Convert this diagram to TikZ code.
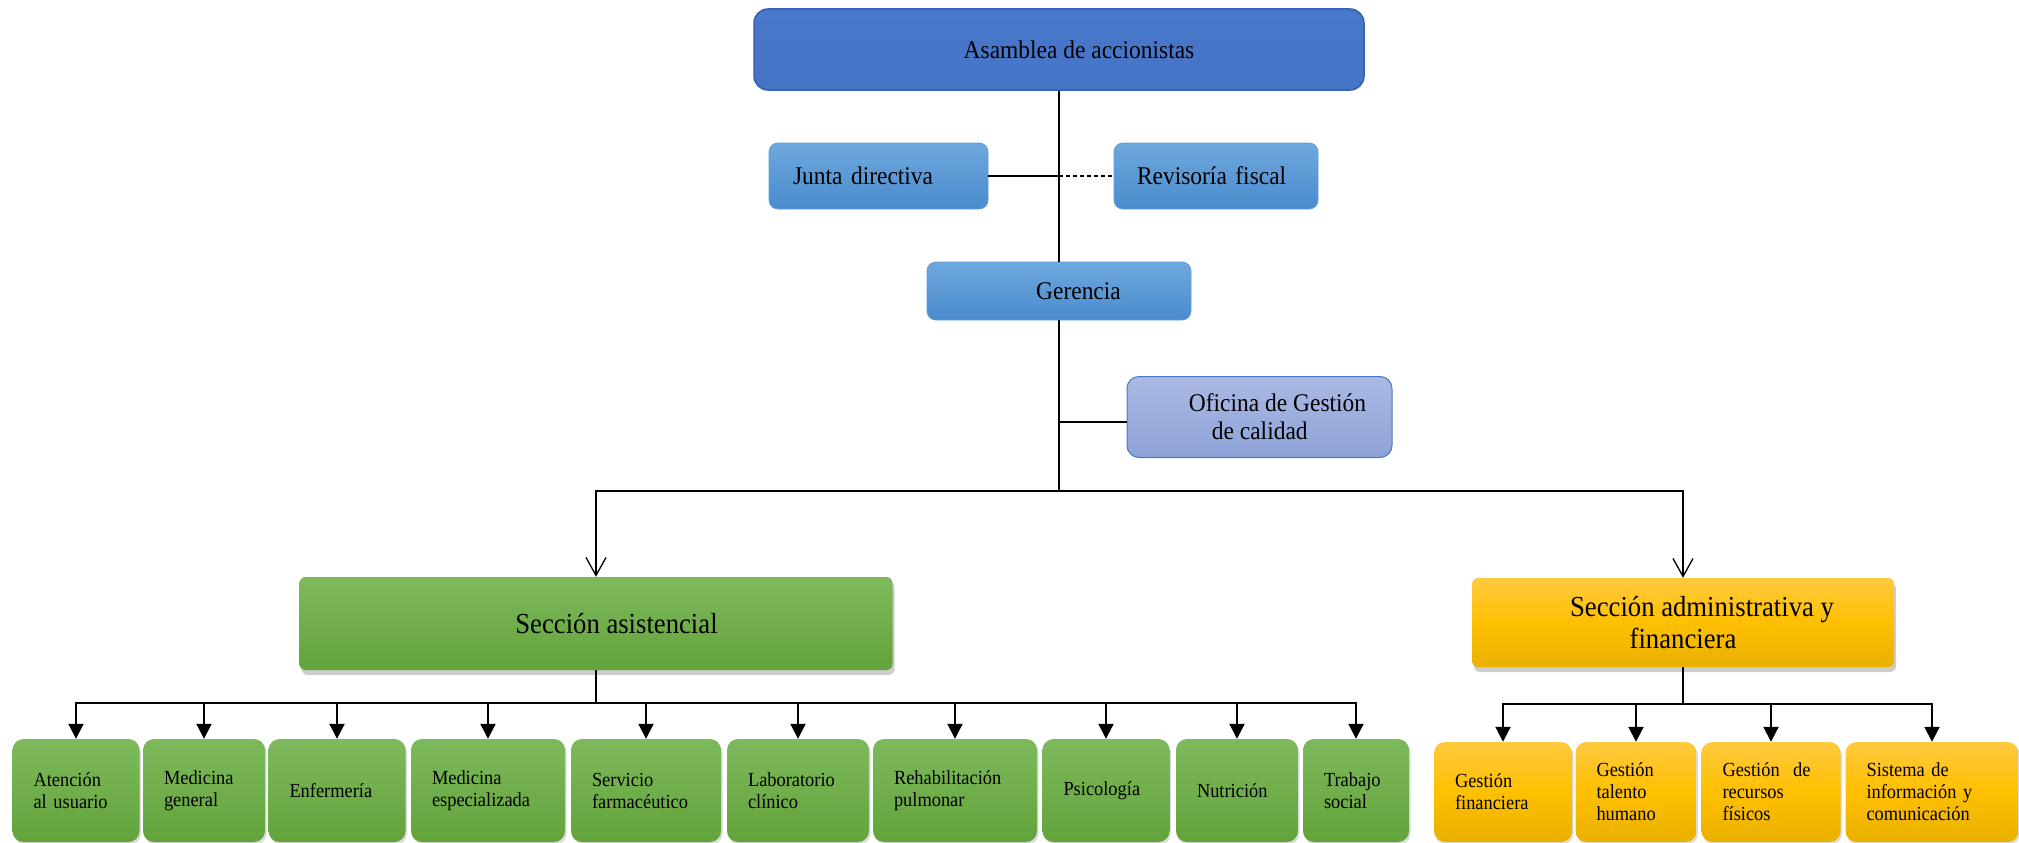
\documentclass[tikz,border=0pt]{standalone}
\usepackage{fontspec}
\setmainfont{Liberation Serif}[FakeStretch=0.92]
\usetikzlibrary{arrows.meta,shadows}
\definecolor{asmfill}{HTML}{4674C6}
\definecolor{asmtop}{HTML}{4878CA}
\definecolor{asmdraw}{HTML}{3560B0}
\definecolor{ltop}{HTML}{6EA8DE}
\definecolor{lbot}{HTML}{4A8BCD}
\definecolor{ldraw}{HTML}{5E9DD8}
\definecolor{otop}{HTML}{ABBAE3}
\definecolor{obot}{HTML}{8DA2D8}
\definecolor{odraw}{HTML}{4A76C8}
\definecolor{gtop}{HTML}{7EBA5D}
\definecolor{gbot}{HTML}{62A33A}
\definecolor{ytop}{HTML}{FFC940}
\definecolor{ymid}{HTML}{FFC000}
\definecolor{ybot}{HTML}{E9B000}
\tikzset{
  box/.style={rectangle, inner sep=0pt, text=black},
  bigfont/.style={font=\fontsize{25.5}{28}\selectfont},
  secfont/.style={font=\fontsize{29}{32}\selectfont},
  smallfont/.style={font=\fontsize{20}{22}\selectfont},
  asmbox/.style={box, bigfont, rounded corners=14pt, top color=asmtop, bottom color=asmfill, draw=asmdraw, line width=1.5pt},
  lightbox/.style={box, bigfont, rounded corners=9pt, top color=ltop, bottom color=lbot, draw=ldraw, line width=0.8pt},
  ofibox/.style={box, bigfont, rounded corners=12pt, top color=otop, bottom color=obot, draw=odraw, line width=1pt},
  sshadow/.style={drop shadow={shadow xshift=2pt, shadow yshift=-5pt, opacity=.28, fill=black!70}},
  tshadow/.style={drop shadow={shadow xshift=1.5pt, shadow yshift=-2.5pt, opacity=.2, fill=black!70}},
  greensec/.style={box, secfont, rounded corners=6pt, top color=gtop, bottom color=gbot, draw=none, sshadow, align=center},
  goldsec/.style={box, secfont, rounded corners=6pt, top color=ytop, bottom color=ybot, middle color=ymid, draw=none, sshadow, align=center},
  gsmall/.style={box, smallfont, rounded corners=11pt, top color=gtop, bottom color=gbot, draw=none, tshadow, align=left, inner xsep=21pt, minimum height=103pt},
  ysmall/.style={box, smallfont, rounded corners=11pt, top color=ytop, bottom color=ybot, middle color=ymid, draw=none, tshadow, align=left, inner xsep=21pt, minimum height=100pt},
  conn/.style={line width=2pt, draw=black},
  openarr/.style={conn, -{Straight Barb[length=18pt,width=20pt,line width=1.3pt]}},
  fillarr/.style={conn, -{Triangle[length=15pt,width=15pt]}}
}
\begin{document}
\begin{tikzpicture}[x=1pt,y=-1pt]
\useasboundingbox (0,0) rectangle (2019,843);
% top level
\node[asmbox, minimum width=610pt, minimum height=81pt] (ase) at (1059,49.5) {\hspace*{40pt}Asamblea de accionistas};
\node[lightbox, minimum height=66pt, inner xsep=24pt, text width=171pt, align=left] (jun) at (878.5,176) {Junta directiva};
\node[lightbox, minimum height=66pt, inner xsep=23pt, text width=158pt, align=left] (rev) at (1216,176) {Revisoría fiscal};
\node[lightbox, minimum width=264pt, minimum height=58pt] (ger) at (1059,291) {\hspace*{39pt}Gerencia};
\node[ofibox, minimum width=265pt, minimum height=81pt, align=left] (ofi) at (1259.5,417) {\hspace*{36pt}Oficina de Gestión\\\hspace*{59pt}de calidad};
% sections
\node[greensec, minimum width=593pt, minimum height=93pt] (sa) at (596,623.5) {\hspace*{41pt}Sección asistencial};
\node[goldsec, minimum width=422pt, minimum height=89pt] (sadm) at (1683,622.5) {\hspace*{38pt}Sección administrativa y\\financiera};
% green units
\node[gsmall, text width=85pt] (g1) at (76,790.5) {Atención\\al usuario};
\node[gsmall, text width=80pt] (g2) at (204,790.5) {Medicina\\general};
\node[gsmall, text width=95pt] (g3) at (337,790.5) {Enfermería};
\node[gsmall, text width=112pt] (g4) at (488,790.5) {Medicina\\especializada};
\node[gsmall, text width=108pt] (g5) at (646,790.5) {Servicio\\farmacéutico};
\node[gsmall, text width=100pt] (g6) at (798,790.5) {Laboratorio\\clínico};
\node[gsmall, text width=122pt] (g7) at (955,790.5) {Rehabilitación\\pulmonar};
\node[gsmall, text width=85pt] (g8) at (1106,790.5) {Psicología};
\node[gsmall, text width=80pt] (g9) at (1237,790.5) {Nutrición};
\node[gsmall, text width=64pt] (g10) at (1356,790.5) {Trabajo\\social};
% gold units
\node[ysmall, text width=96pt] (y1) at (1503,792) {Gestión\\financiera};
\node[ysmall, text width=79pt] (y2) at (1636,792) {Gestión\\talento\\humano};
\node[ysmall, text width=97pt] (y3) at (1771,792) {Gestión\ \ de\\recursos\\físicos};
\node[ysmall, text width=131pt] (y4) at (1932,792) {Sistema de\\información y\\comunicación};
% connectors top
\draw[conn] (ase.south) -- (ger.north);
\coordinate (jc) at (jun.east -| ase.south);
\draw[conn, line width=2.2pt] (jun.east) -- (jc);
\draw[conn, dash pattern=on 4pt off 3pt] (jc) -- (rev.west);
\coordinate (ow) at ([yshift=-5pt]ofi.west);
\coordinate (oc) at (ow -| ger.south);
\draw[conn, line width=1.6pt] (oc) -- (ow);
\coordinate (busT) at (1059,491);
\draw[conn] (ger.south) -- (busT);
\draw[openarr] (busT) -| (sa.north);
\draw[openarr] (busT) -| (sadm.north);
% green bus
\coordinate (busA) at (596,703);
\draw[conn] (sa.south) -- (busA);
\foreach \n in {g1,g2,g3,g4,g5,g6,g7,g8,g9,g10}{
  \draw[fillarr] (busA) -| (\n.north);
}
% gold bus
\coordinate (busB) at (1683,704);
\draw[conn] (sadm.south) -- (busB);
\foreach \n in {y1,y2,y3,y4}{
  \draw[fillarr] (busB) -| (\n.north);
}
\end{tikzpicture}
\end{document}
